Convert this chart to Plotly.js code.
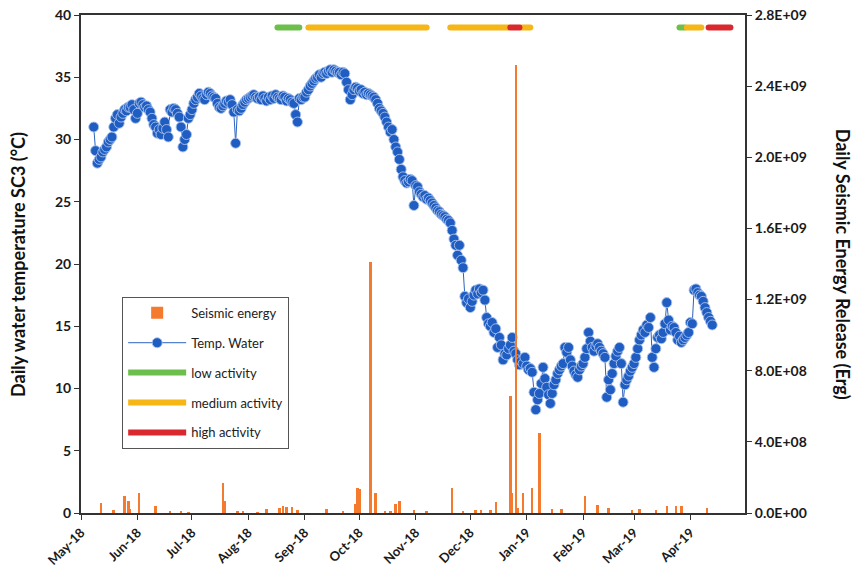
<!DOCTYPE html>
<html>
<head>
<meta charset="utf-8">
<script src="https://cdn.plot.ly/plotly-3.0.1.min.js"></script>
<style>
html,body{margin:0;padding:0;background:#fff;}
#chart{width:853px;height:573px;}
.scatterlayer .js-line{stroke-linecap:round;}
</style>
</head>
<body>
<div id="chart"></div>
<script>
// ---- Data ----
// Daily water temperature SC3 (°C), one value per day starting on tempStart
const tempStart = '2018-05-08';
const tempValues = [
31.0,29.1,28.1,28.4,28.6,29.0,29.2,29.4,29.8,30.0,
30.2,31.0,31.7,32.0,31.3,31.8,32.1,32.4,32.3,32.6,
32.6,32.8,32.4,31.7,32.1,32.9,33.0,32.8,32.6,32.7,
32.4,32.2,31.7,31.2,31.0,30.5,30.8,30.4,30.9,31.4,
30.8,30.2,32.4,32.2,32.5,32.4,32.1,31.8,31.0,29.4,
30.0,30.4,31.7,32.0,32.4,32.9,33.2,33.4,33.7,33.5,
33.3,33.2,33.6,33.8,33.7,33.5,33.4,33.3,32.9,32.6,
32.5,32.7,32.9,33.1,33.0,33.2,32.8,32.2,29.7,32.4,
32.3,32.5,32.8,33.0,33.2,33.3,33.4,33.5,33.6,33.4,
33.3,33.4,33.2,33.5,33.3,33.1,33.4,33.2,33.5,33.3,
33.6,33.4,33.3,33.2,33.5,33.4,33.1,33.3,33.2,33.0,
32.9,32.0,31.4,33.3,33.2,33.4,33.4,33.8,34.0,34.3,
34.5,34.7,34.9,35.0,35.2,35.0,35.3,35.4,35.3,35.5,
35.6,35.4,35.6,35.5,35.4,35.4,35.2,35.4,35.3,34.6,
34.0,33.2,33.6,34.0,34.2,34.1,33.9,34.0,33.7,33.8,
33.6,33.7,33.6,33.5,33.4,33.2,32.9,32.5,32.3,32.1,
31.8,31.4,31.0,30.6,30.8,30.0,29.4,29.0,28.4,27.6,
27.0,26.7,26.5,26.6,26.8,26.7,24.7,26.3,26.2,25.8,
25.6,25.4,25.5,25.2,25.3,25.1,24.9,24.7,24.5,24.3,
24.2,24.0,23.9,23.8,23.6,23.5,23.3,22.7,22.0,21.5,
20.7,21.5,20.3,19.7,17.4,16.9,17.2,16.5,17.0,17.5,
17.9,17.6,18.0,17.7,17.9,17.1,15.7,15.2,15.0,15.3,
14.5,14.8,13.3,14.1,13.5,12.3,12.8,12.7,13.2,13.5,
14.1,13.0,12.8,12.3,11.9,12.2,12.0,12.5,11.8,11.5,
11.6,11.3,9.7,8.3,9.1,9.6,10.4,11.7,10.8,10.1,
9.5,8.8,9.6,10.3,10.7,11.2,11.5,11.8,12.0,13.3,
12.9,13.3,12.3,11.8,11.4,11.1,10.9,11.5,11.8,12.0,
12.5,13.2,14.5,13.8,13.3,13.0,13.4,13.6,13.3,13.0,
12.8,12.5,9.3,10.7,9.9,11.2,12.0,12.6,13.0,13.3,
12.0,8.9,10.3,10.7,11.0,11.4,11.7,12.0,12.5,13.2,
13.9,14.3,14.7,14.5,15.1,14.9,15.7,12.5,11.7,13.2,
14.1,14.3,14.0,14.5,15.2,16.9,15.5,14.7,15.0,14.9,
14.5,13.9,14.2,13.7,13.9,14.1,14.3,14.5,15.3,15.2,
17.9,18.0,17.7,17.5,17.4,17.0,16.5,16.1,15.7,15.4,15.1
];

// Daily seismic energy release (Erg)
const seismicDates = [
'2018-05-12','2018-05-19','2018-05-25','2018-05-27','2018-05-28','2018-06-02','2018-06-11','2018-06-19','2018-06-25','2018-06-29',
'2018-07-18','2018-07-19','2018-07-26','2018-07-29','2018-08-06','2018-08-11','2018-08-18','2018-08-20','2018-08-22','2018-08-25',
'2018-08-28','2018-09-13','2018-09-22','2018-09-29','2018-09-30','2018-10-01','2018-10-07','2018-10-10','2018-10-15','2018-10-18',
'2018-10-21','2018-10-23','2018-10-31','2018-11-07','2018-11-21','2018-11-27','2018-12-04','2018-12-07','2018-12-12','2018-12-15',
'2018-12-23','2018-12-24','2018-12-26','2018-12-27','2018-12-30','2019-01-04','2019-01-08','2019-01-15','2019-01-20','2019-02-02',
'2019-02-09','2019-02-15','2019-02-28','2019-03-04','2019-03-13','2019-03-19','2019-03-24','2019-03-27','2019-04-10'
];
const seismicValues = [
5.6e7,1.5e7,9.3e7,7.0e7,2.0e7,1.12e8,3.9e7,1.0e7,1.0e7,0.8e7,
1.68e8,7.0e7,1.0e7,1.0e7,0.8e7,2.5e7,3.0e7,4.0e7,3.5e7,3.5e7,
1.5e7,2.0e7,1.0e7,5.0e7,1.4e8,1.35e8,1.41e9,1.1e8,1.0e7,1.0e7,
5.0e7,7.0e7,1.5e7,1.0e7,1.4e8,1.0e7,1.5e7,1.5e7,1.5e7,6.0e7,
6.6e8,1.1e8,2.52e9,3.0e7,1.1e8,1.4e8,4.5e8,2.0e7,2.0e7,9.5e7,
4.5e7,3.0e7,1.5e7,2.0e7,1.5e7,4.0e7,4.0e7,4.0e7,3.0e7
];

// Activity periods (segments separated by null)
const lowActivityDates    = ['2018-08-17','2018-08-29',null,'2019-03-26','2019-03-29'];
const mediumActivityDates = ['2018-09-03','2018-11-07',null,'2018-11-20','2018-12-22',null,'2018-12-29','2019-01-03',null,'2019-03-30','2019-04-07'];
const highActivityDates   = ['2018-12-23','2018-12-28',null,'2019-04-11','2019-04-23'];
const activityLevel = 39;

// Axis ticks
const monthTicks = ['2018-05-01','2018-06-01','2018-07-01','2018-08-01','2018-09-01','2018-10-01','2018-11-01','2018-12-01','2019-01-01','2019-02-01','2019-03-01','2019-04-01'];
const monthLabels = ['May-18','Jun-18','Jul-18','Aug-18','Sep-18','Oct-18','Nov-18','Dec-18','Jan-19','Feb-19','Mar-19','Apr-19'];
const leftTicks = [0,5,10,15,20,25,30,35,40];
const rightTicks = [0,4e8,8e8,1.2e9,1.6e9,2.0e9,2.4e9,2.8e9];
const rightLabels = ['0.0E+00','4.0E+08','8.0E+08','1.2E+09','1.6E+09','2.0E+09','2.4E+09','2.8E+09'];

// ---- Build ----
function dayList(start, n){
  const p = start.split('-').map(Number);
  const out = [];
  for(let i=0;i<n;i++){
    const d = new Date(Date.UTC(p[0], p[1]-1, p[2]+i));
    out.push(d.toISOString().slice(0,10));
  }
  return out;
}
const tempDates = dayList(tempStart, tempValues.length);
const lvl = arr => arr.map(d => d===null ? null : activityLevel);

const FONT = 'Lato, "Open Sans", "DejaVu Sans", sans-serif';

const traces = [
  {type:'bar', name:'Seismic energy', x:seismicDates, y:seismicValues, yaxis:'y2',
   marker:{color:'#f47a2e', line:{width:0}}, width:1.4*86400000, legendgroup:'a'},
  {type:'scatter', mode:'lines+markers', name:'Temp. Water', x:tempDates, y:tempValues,
   line:{color:'#2d62c0', width:1}, marker:{color:'#1f5dc2', size:10, line:{color:'rgba(170,195,235,0.9)', width:1}}, legendgroup:'b'},
  {type:'scatter', mode:'lines', name:'low activity', x:lowActivityDates, y:lvl(lowActivityDates),
   line:{color:'#6cbf4a', width:6}, connectgaps:false, legendgroup:'c'},
  {type:'scatter', mode:'lines', name:'medium activity', x:mediumActivityDates, y:lvl(mediumActivityDates),
   line:{color:'#f6b616', width:6}, connectgaps:false, legendgroup:'d'},
  {type:'scatter', mode:'lines', name:'high activity', x:highActivityDates, y:lvl(highActivityDates),
   line:{color:'#d9282e', width:6}, connectgaps:false, legendgroup:'e'}
];

const layout = {
  width:853, height:573,
  margin:{l:81, r:108, t:15, b:60},
  paper_bgcolor:'#fff', plot_bgcolor:'#fff',
  font:{family:FONT, color:'#1a1a1a'},
  showlegend:true,
  bargap:0,
  legend:{x:0.062, y:0.434, xanchor:'left', yanchor:'top', bgcolor:'#fff',
          bordercolor:'#555', borderwidth:1, font:{size:13, family:FONT, color:'#222'},
          tracegroupgap:10, itemwidth:58},
  xaxis:{type:'date', range:['2018-05-01','2019-05-01'], tickvals:monthTicks, ticktext:monthLabels,
         tickangle:-45, tickfont:{size:13, family:FONT, weight:'bold'}, showgrid:false, zeroline:false,
         showline:true, linecolor:'#333', linewidth:2, mirror:true, ticks:'outside', ticklen:5, tickcolor:'#333'},
  yaxis:{range:[0,40], tickvals:leftTicks, showgrid:false, zeroline:false, showline:true, linecolor:'#333',
         linewidth:2, ticks:'outside', ticklen:5, tickcolor:'#333', tickfont:{size:14, family:FONT, weight:'bold'}},
  yaxis2:{overlaying:'y', side:'right', range:[0,2.8e9], tickvals:rightTicks, ticktext:rightLabels,
          showgrid:false, zeroline:false, showline:true, linecolor:'#333', linewidth:2, ticks:'outside',
          ticklen:5, tickcolor:'#333', tickfont:{size:14, family:FONT, weight:'bold'}},
  annotations:[
    {text:'Daily water temperature SC3 (°C)', xref:'paper', yref:'paper', x:-0.095, y:0.5, xanchor:'center', yanchor:'middle',
     textangle:-90, showarrow:false, font:{size:18, family:FONT, weight:'bold', color:'#111'}},
    {text:'Daily Seismic Energy Release (Erg)', xref:'paper', yref:'paper', x:1.148, y:0.5, xanchor:'center', yanchor:'middle',
     textangle:90, showarrow:false, font:{size:18, family:FONT, weight:'bold', color:'#111'}}
  ]
};

Plotly.newPlot('chart', traces, layout, {displayModeBar:false, staticPlot:true});
</script>
</body>
</html>
